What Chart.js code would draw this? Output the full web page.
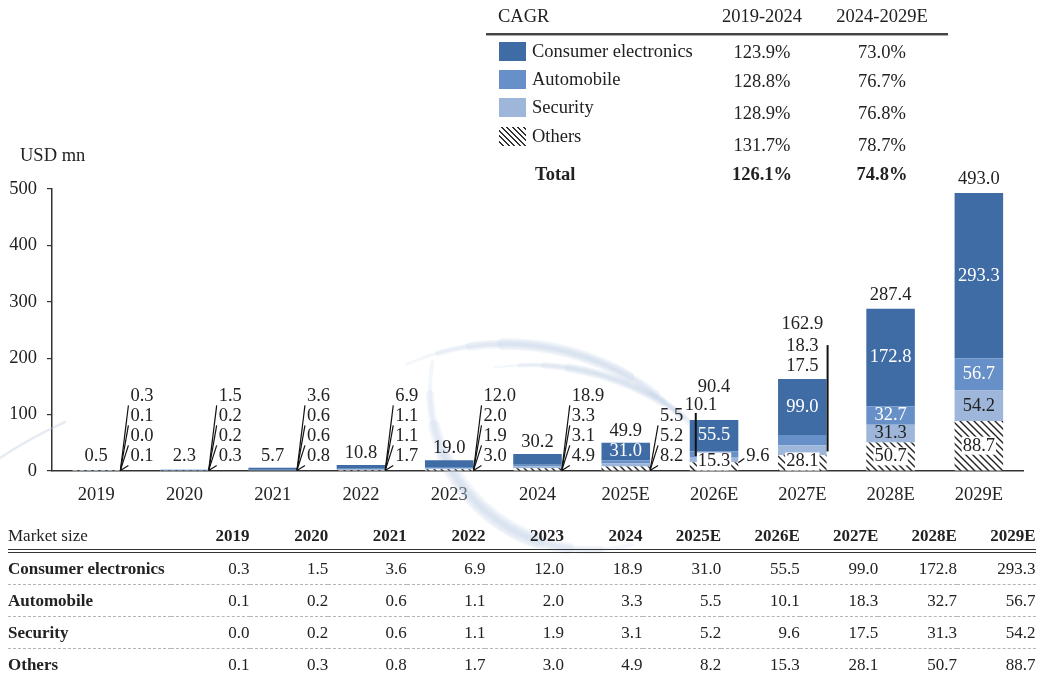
<!DOCTYPE html>
<html>
<head>
<meta charset="utf-8">
<script src="https://cdn.jsdelivr.net/npm/chart.js@4.4.1/dist/chart.umd.min.js"></script>
<style>
    body { margin: 0; background: #fff; }
    #page { position: relative; width: 1041px; height: 680px; overflow: hidden; background: #fff;
            font-family: 'Liberation Serif', 'Times New Roman', serif; color: #222; }
    #chart { position: absolute; left: 0; top: 0; }
    .abs { position: absolute; line-height: 22px; font-size: 18.5px; white-space: nowrap; }
    .ctr { text-align: center; width: 120px; }
    .swatch { position: absolute; width: 27px; height: 19px; }
    #market { position: absolute; left: 8px; top: 522px; border-collapse: collapse; table-layout: fixed;
              font-size: 17px; color: #222; }
    #market th, #market td { padding: 0; text-align: right; white-space: nowrap; }
    #market th:first-child, #market td:first-child { text-align: left; }
    #market thead th { height: 27px; border-bottom: 4px double #333; }
    #market thead th:first-child { font-weight: normal; }
    #market tbody td { height: 31px; border-bottom: 1px dashed #b5b5b5; }
    #market tbody td:first-child { font-weight: bold; }
</style>
</head>
<body>
<div id="page">
    <canvas id="chart" width="1041" height="680"></canvas>
    <div class="abs" style="left:20px; top:144px;">USD mn</div>
    <div id="cagr"></div>
    <table id="market"></table>
</div>
<script>
    // ---- data ----
    const categories = ['2019', '2020', '2021', '2022', '2023', '2024', '2025E', '2026E', '2027E', '2028E', '2029E'];
    const consumerElectronics = [0.3, 1.5, 3.6, 6.9, 12.0, 18.9, 31.0, 55.5, 99.0, 172.8, 293.3];
    const automobile = [0.1, 0.2, 0.6, 1.1, 2.0, 3.3, 5.5, 10.1, 18.3, 32.7, 56.7];
    const security = [0.0, 0.2, 0.6, 1.1, 1.9, 3.1, 5.2, 9.6, 17.5, 31.3, 54.2];
    const others = [0.1, 0.3, 0.8, 1.7, 3.0, 4.9, 8.2, 15.3, 28.1, 50.7, 88.7];
    const totals = [0.5, 2.3, 5.7, 10.8, 19.0, 30.2, 49.9, 90.4, 162.9, 287.4, 493.0];
    const yTicks = [0, 100, 200, 300, 400, 500];

    const segmentNames = ['Consumer electronics', 'Automobile', 'Security', 'Others'];
    const cagrPeriods = ['2019-2024', '2024-2029E'];
    const cagrHistoric = [123.9, 128.8, 128.9, 131.7];
    const cagrForecast = [73.0, 76.7, 76.8, 78.7];
    const cagrTotal = [126.1, 74.8];

    // how the value labels sit around each bar
    const labelModes = ['fan', 'fan', 'fan', 'fan', 'fan', 'fan', 'fan3', 'left', 'stack', 'inside', 'inside'];

    const COLORS = {
        consumer: '#3f6ca5',
        automobile: '#6690c7',
        security: '#9db6da',
        text: '#222'
    };
    const FONT = "18.5px 'Liberation Serif', 'Times New Roman', serif";

    const fmt = v => v.toFixed(1);

    // ---- hatch pattern for "Others" ----
    const canvas = document.getElementById('chart');
    const ctx = canvas.getContext('2d');

    function makeHatch() {
        const c = document.createElement('canvas');
        c.width = 7;
        c.height = 7;
        const g = c.getContext('2d');
        g.fillStyle = '#fff';
        g.fillRect(0, 0, 7, 7);
        g.strokeStyle = '#222';
        g.lineWidth = 1.4;
        g.beginPath();
        g.moveTo(-1, -1); g.lineTo(8, 8);
        g.moveTo(-1, 6); g.lineTo(1, 8);
        g.moveTo(6, -1); g.lineTo(8, 1);
        g.stroke();
        return ctx.createPattern(c, 'repeat');
    }
    const hatch = makeHatch();

    // ---- faint logo watermark behind the bars ----
    const watermark = {
        id: 'watermark',
        beforeDatasetsDraw(chart) {
            const c = chart.ctx;
            const deg = Math.PI / 180;
            const tint = 'rgba(180, 198, 222, 0.16)';
            const swoosh = (cx, cy, r, a0, a1, maxW) => {
                for (let s = 0; s < 4; s++) {
                    const cut = (a1 - a0) * s * 0.1;
                    c.strokeStyle = tint;
                    c.lineWidth = maxW * (s + 1) / 4;
                    c.lineCap = 'round';
                    c.beginPath();
                    c.arc(cx, cy, r, (a0 + cut) * deg, (a1 - cut) * deg);
                    c.stroke();
                }
            };
            c.save();
            swoosh(505, 594, 250, 247, 322, 12);
            swoosh(530, 620, 255, 262, 318, 9);
            swoosh(590, 390, 160, 75, 190, 16);
            // thin tail at the far left
            c.strokeStyle = tint;
            c.lineCap = 'round';
            [1, 2, 3].forEach(w => {
                c.lineWidth = w;
                c.beginPath();
                c.moveTo(0, 458);
                c.quadraticCurveTo(30, 438, 65, 422);
                c.stroke();
            });
            c.restore();
        }
    };

    // ---- value labels drawn from the bar elements ----
    const barLabels = {
        id: 'barLabels',
        afterDatasetsDraw(chart) {
            const c = chart.ctx;
            c.save();
            c.font = FONT;
            c.textBaseline = 'middle';

            const text = (s, x, y, align, color) => {
                c.textAlign = align || 'center';
                c.fillStyle = color || COLORS.text;
                c.fillText(s, x, y);
            };
            const boxed = (s, x, y) => {
                const w = c.measureText(s).width;
                c.fillStyle = '#fff';
                c.fillRect(x - w / 2 - 1, y - 9, w + 2, 18);
                text(s, x, y);
            };
            const line = (x1, y1, x2, y2, w) => {
                c.strokeStyle = '#111';
                c.lineWidth = w || 1.2;
                c.beginPath();
                c.moveTo(x1, y1);
                c.lineTo(x2, y2);
                c.stroke();
            };

            categories.forEach((cat, i) => {
                // dataset order: 0 others, 1 security, 2 automobile, 3 consumer electronics
                const seg = [0, 1, 2, 3].map(d => chart.getDatasetMeta(d).data[i]);
                const vals = [others[i], security[i], automobile[i], consumerElectronics[i]];
                const mid = d => (seg[d].y + seg[d].base) / 2;
                const x = seg[3].x;
                const top = seg[3].y;
                const base = seg[0].base;
                const half = seg[3].width / 2;
                const left = x - half;
                const right = x + half;
                const mode = labelModes[i];

                if (mode === 'fan' || mode === 'fan3') {
                    const n = mode === 'fan' ? 4 : 3;
                    for (let k = 0; k < n; k++) {
                        const y = base - 14 - 20 * k;
                        line(right, base, right + 8, y + 9);
                        text(fmt(vals[k]), right + 10, y, 'left');
                    }
                    if (mode === 'fan3') {
                        text(fmt(vals[3]), x, mid(3), 'center', '#fff');
                    }
                    text(fmt(totals[i]), x, Math.min(top - 12, base - 14));
                } else if (mode === 'left') {
                    text(fmt(vals[3]), x, mid(3), 'center', '#fff');
                    boxed(fmt(vals[0]), x, Math.min(mid(0), base - 9));
                    line(left + 6, top - 7, left + 6, mid(2) + 2, 2);
                    text(fmt(vals[2]), left - 5, top - 15, 'left');
                    line(right, mid(1) + 3, right + 6, base - 12);
                    text(fmt(vals[1]), right + 8, base - 14, 'left');
                    text(fmt(totals[i]), x, top - 33);
                } else if (mode === 'stack') {
                    text(fmt(vals[3]), x, mid(3), 'center', '#fff');
                    boxed(fmt(vals[0]), x, Math.min(mid(0), base - 9));
                    line(right + 1, top - 34, right + 1, base - 19, 2);
                    text(fmt(vals[1]), right - 8, top - 13, 'right');
                    text(fmt(vals[2]), right - 8, top - 33, 'right');
                    text(fmt(totals[i]), x, top - 55);
                } else {
                    text(fmt(vals[3]), x, mid(3), 'center', '#fff');
                    text(fmt(vals[2]), x, mid(2), 'center', '#fff');
                    text(fmt(vals[1]), x, mid(1));
                    boxed(fmt(vals[0]), x, Math.min(mid(0), base - 9));
                    text(fmt(totals[i]), x, top - 14);
                }
            });
            c.restore();
        }
    };

    new Chart(ctx, {
        type: 'bar',
        data: {
            labels: categories,
            datasets: [
                { label: 'Others', data: others, backgroundColor: hatch },
                { label: 'Security', data: security, backgroundColor: COLORS.security },
                { label: 'Automobile', data: automobile, backgroundColor: COLORS.automobile },
                { label: 'Consumer electronics', data: consumerElectronics, backgroundColor: COLORS.consumer }
            ]
        },
        options: {
            responsive: false,
            animation: false,
            events: [],
            layout: { padding: { top: 189, right: 18, left: 0, bottom: 0 } },
            datasets: {
                bar: { categoryPercentage: 1, barPercentage: 0.55, borderWidth: 0 }
            },
            plugins: {
                legend: { display: false },
                tooltip: { enabled: false }
            },
            scales: {
                x: {
                    stacked: true,
                    grid: { display: false, drawTicks: false },
                    border: { display: true, color: '#333', width: 1.5 },
                    ticks: {
                        color: COLORS.text,
                        padding: 13,
                        maxRotation: 0,
                        font: { family: "'Liberation Serif', 'Times New Roman', serif", size: 18.5 }
                    },
                    afterFit(scale) { scale.height = 209; }
                },
                y: {
                    stacked: true,
                    min: 0,
                    max: 500,
                    afterBuildTicks(scale) { scale.ticks = yTicks.map(v => ({ value: v })); },
                    grid: { drawOnChartArea: false, drawTicks: true, tickLength: 5, color: '#333', lineWidth: 1.2 },
                    border: { display: true, color: '#333', width: 1.5 },
                    ticks: {
                        color: COLORS.text,
                        padding: 10,
                        font: { family: "'Liberation Serif', 'Times New Roman', serif", size: 18.5 }
                    },
                    afterFit(scale) { scale.width = 52; }
                }
            }
        },
        plugins: [watermark, barLabels]
    });

    // ---- CAGR table ----
    const cagr = document.getElementById('cagr');
    const swatchFills = [
        COLORS.consumer,
        COLORS.automobile,
        COLORS.security,
        'repeating-linear-gradient(45deg, #fff 0 2.6px, #333 2.6px 3.9px)'
    ];
    const nameY = [52, 80, 108, 137];
    const pctY = [52, 81, 113, 145];
    const pctX = [702, 822];

    function addDiv(html, style, cls) {
        const d = document.createElement('div');
        d.className = cls || 'abs';
        d.style.cssText = style;
        d.innerHTML = html;
        cagr.appendChild(d);
        return d;
    }

    addDiv('CAGR', 'left:498px; top:5px;');
    cagrPeriods.forEach((p, j) => addDiv(p, 'left:' + pctX[j] + 'px; top:5px;', 'abs ctr'));
    addDiv('', 'left:486px; top:33px; width:462px; height:2px; background:#444; border-bottom:1px solid #aaa;', 'swatch');

    segmentNames.forEach((name, r) => {
        addDiv('', 'left:499px; top:' + (nameY[r] - 10) + 'px; background:' + swatchFills[r] + ';', 'swatch');
        addDiv(name, 'left:532px; top:' + (nameY[r] - 12) + 'px;');
        addDiv(fmt(cagrHistoric[r]) + '%', 'left:' + pctX[0] + 'px; top:' + (pctY[r] - 11) + 'px;', 'abs ctr');
        addDiv(fmt(cagrForecast[r]) + '%', 'left:' + pctX[1] + 'px; top:' + (pctY[r] - 11) + 'px;', 'abs ctr');
    });
    addDiv('Total', 'left:535px; top:163px; font-weight:bold;');
    cagrTotal.forEach((v, j) => addDiv(fmt(v) + '%', 'left:' + pctX[j] + 'px; top:163px; font-weight:bold;', 'abs ctr'));

    // ---- market size table ----
    const table = document.getElementById('market');
    const series = [consumerElectronics, automobile, security, others];
    let html = '<colgroup><col style="width:163px">' + categories.map(() => '<col style="width:78.6px">').join('') + '</colgroup>';
    html += '<thead><tr><th>Market size</th>' + categories.map(c => '<th>' + c + '</th>').join('') + '</tr></thead><tbody>';
    segmentNames.forEach((name, r) => {
        html += '<tr><td>' + name + '</td>' + series[r].map(v => '<td>' + fmt(v) + '</td>').join('') + '</tr>';
    });
    html += '</tbody>';
    table.innerHTML = html;
</script>
</body>
</html>
